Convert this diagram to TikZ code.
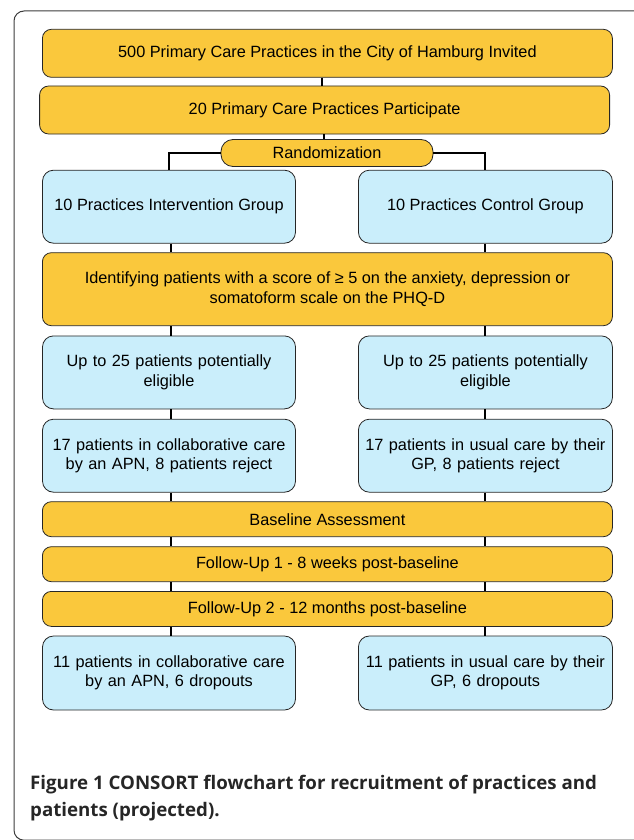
\documentclass[tikz,border=0pt]{standalone}
\usepackage{fontspec}
\setmainfont{Liberation Sans}
\newfontfamily\capfont{Open Sans}
\definecolor{ybox}{RGB}{250,200,60}
\definecolor{bbox}{RGB}{202,238,251}
\definecolor{frame}{RGB}{60,60,60}
\tikzset{
  base/.style={draw=black!85, line width=0.8pt, rounded corners=9pt, align=center,
    font=\fontsize{16.3}{19.5}\selectfont, inner sep=0pt},
  ybx/.style={base, fill=ybox},
  bbx/.style={base, fill=bbox, rounded corners=11pt},
  conn/.style={line width=2pt, black}
}
\begin{document}
\begin{tikzpicture}[x=1pt,y=-1pt]
\useasboundingbox (0,0) rectangle (633,840);
\draw[frame, line width=1pt, rounded corners=10pt] (14,11) rectangle (645,840.2);
% yellow wide boxes
\node[ybx, minimum width=570, minimum height=48] (b1) at (327.4,53.3) {500 Primary Care Practices in the City of Hamburg Invited};
\node[ybx, minimum width=570, minimum height=48] (b2) at (324.6,110) {20 Primary Care Practices Participate};
\node[ybx, minimum width=212, minimum height=27, rounded corners=12pt] (rnd) at (327,153) {Randomization};
\node[bbx, minimum width=253, minimum height=73] (g1) at (169,206.7) {10 Practices Intervention Group};
\node[bbx, minimum width=254, minimum height=73] (g2) at (485.4,206.7) {10 Practices Control Group};
\node[ybx, minimum width=570, minimum height=73] (id) at (327.4,289.2) {Identifying patients with a score of ≥ 5 on the anxiety, depression or\\somatoform scale on the PHQ-D};
\node[bbx, minimum width=253, minimum height=73, text width=245] (e1) at (169,372.4) {Up to 25 patients potentially\\eligible};
\node[bbx, minimum width=254, minimum height=73, text width=245] (e2) at (485.4,372.4) {Up to 25 patients potentially\\eligible};
\node[bbx, minimum width=253, minimum height=73, text width=245] (p1) at (169,455.7) {17 patients in collaborative care\\by an APN, 8 patients reject};
\node[bbx, minimum width=254, minimum height=73, text width=245] (p2) at (485.4,455.7) {17 patients in usual care by their\\GP, 8 patients reject};
\node[ybx, minimum width=570, minimum height=35] (bl) at (327.4,519.2) {Baseline Assessment};
\node[ybx, minimum width=570, minimum height=35] (f1) at (327.4,564.2) {Follow-Up 1 - 8 weeks post-baseline};
\node[ybx, minimum width=570, minimum height=35] (f2) at (327.4,608.9) {Follow-Up 2 - 12 months post-baseline};
\node[bbx, minimum width=253, minimum height=74, text width=245] (d1) at (169,673) {11 patients in collaborative care\\by an APN, 6 dropouts};
\node[bbx, minimum width=254, minimum height=74, text width=245] (d2) at (485.4,673) {11 patients in usual care by their\\GP, 6 dropouts};
% connectors
\draw[conn] (b1.south -| 322,0) -- (b2.north -| 322,0);
\draw[conn] (b2.south -| 324,0) -- (rnd.north -| 324,0);
\draw[conn] (rnd.west) -- (rnd.west -| g1.north) -- (g1.north);
\draw[conn] (rnd.east) -- (rnd.east -| 484.5,0) -- (g2.north -| 484.5,0);
\foreach \a/\b in {g1/id, id/e1, e1/p1, p1/bl, bl/f1, f1/f2, f2/d1}{
  \draw[conn] (\a.south -| 170.8,0) -- (\b.north -| 170.8,0);
}
\foreach \a/\b in {g2/id, id/e2, e2/p2, p2/bl, bl/f1, f1/f2, f2/d2}{
  \draw[conn] (\a.south -| 484.5,0) -- (\b.north -| 484.5,0);
}
% caption
\node[anchor=north west, align=left, inner sep=0pt, text=black!85,
  font=\capfont\bfseries\fontsize{18.7}{27}\selectfont] (cap) at (30,775)
  {Figure 1 CONSORT flowchart for recruitment of practices and\\patients (projected).};
\end{tikzpicture}
\end{document}
